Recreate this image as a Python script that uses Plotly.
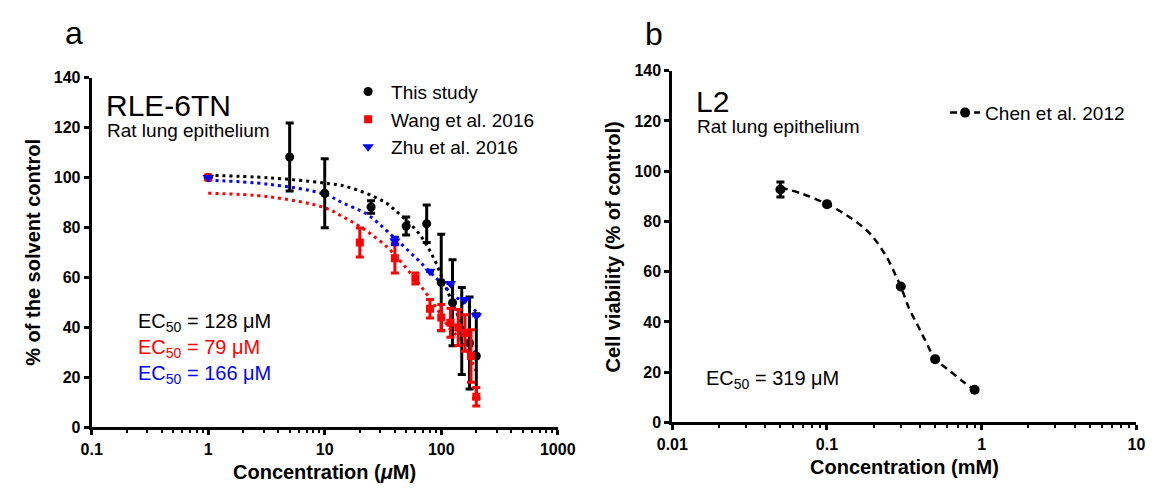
import plotly.graph_objects as go

# ---------------- data: panel a (RLE-6TN) ----------------
this_x = [1, 5, 10, 25, 50, 75, 100, 125, 150, 175, 200]
this_y = [100, 108.2, 93.7, 88.2, 80.6, 81.5, 58.0, 49.9, 38.6, 33.8, 28.6]
this_err = [0, 13.6, 13.8, 2.5, 3.6, 7.5, 19.3, 17.2, 17.4, 18.4, 16.9]

wang_x = [1, 20, 40, 60, 80, 100, 120, 140, 160, 180, 200]
wang_y = [100, 74.0, 67.7, 59.6, 47.5, 44.0, 41.9, 40.0, 37.8, 28.6, 12.3]
wang_err = [0, 5.8, 5.9, 2.2, 3.7, 5.2, 5.8, 7.2, 7.3, 10.5, 3.7]

zhu_x = [1, 40, 80, 120, 160, 200]
zhu_y = [100, 74.6, 62.5, 57.6, 51.2, 44.7]
zhu_err = [0, 1.5, 0, 0, 0, 0]

# fitted curves
fit_this_x = [1, 3.3, 9.8, 15.2, 31.8, 45.3, 64.3, 85.8, 114, 143, 168, 200]
fit_this_y = [100.9, 99.9, 97.8, 96.4, 90.5, 84.7, 77.6, 67.9, 54.1, 43.4, 35.7, 29.2]
fit_wang_x = [1, 3.3, 10, 14.3, 22.4, 35, 46.7, 73.1, 92.6, 118, 152, 185, 200]
fit_wang_y = [93.7, 92.3, 87.9, 84.3, 78.9, 71.8, 65.4, 54.1, 47.3, 39.6, 34.4, 26.0, 22.5]
fit_zhu_x = [1, 3.3, 10, 14.3, 23.1, 36.1, 60.4, 80.5, 89.7, 134, 190, 200]
fit_zhu_y = [98.9, 97.3, 93.3, 89.8, 85.3, 77.6, 67.9, 62.1, 59.9, 52.1, 47.1, 46.4]

# ---------------- data: panel b (L2) ----------------
chen_x = [0.05, 0.1, 0.3, 0.5, 0.9]
chen_y = [92.7, 86.9, 54.1, 25.2, 13.0]
chen_err = [3.0, 0, 0, 0, 0]
fit_chen_x = [0.05, 0.0686, 0.1, 0.1416, 0.19, 0.2416, 0.279, 0.3, 0.339, 0.392, 0.442, 0.5, 0.605, 0.772, 0.9]
fit_chen_y = [93.5, 91.1, 86.9, 81.5, 75.1, 66.1, 58.3, 54.1, 45.5, 37.8, 31.4, 25.2, 21.1, 15.9, 13.0]

a_ticks = [0.1, 1, 10, 100, 1000]
a_ticktext = ["0.1", "1", "10", "100", "1000"]
b_ticks = [0.01, 0.1, 1, 10]
b_ticktext = ["0.01", "0.1", "1", "10"]
y_ticks = [0, 20, 40, 60, 80, 100, 120, 140]

FONT = "Liberation Sans, Arial, Helvetica, sans-serif"
W, H = 1167, 491
BLACK, RED, BLUE = "#000000", "#ff0000", "#0000ff"

fig = go.Figure()

# fitted curves (behind points)
for fx, fy, col in [(fit_this_x, fit_this_y, BLACK), (fit_wang_x, fit_wang_y, RED), (fit_zhu_x, fit_zhu_y, BLUE)]:
    fig.add_trace(go.Scatter(x=fx, y=fy, mode="lines", line=dict(color=col, width=3, dash="3px,4px", shape="spline"),
                             showlegend=False, hoverinfo="skip", xaxis="x", yaxis="y"))

fig.add_trace(go.Scatter(x=this_x, y=this_y, mode="markers", name="This study",
                         marker=dict(symbol="circle", size=9, color=BLACK),
                         error_y=dict(type="data", array=this_err, thickness=3, width=4, color=BLACK),
                         xaxis="x", yaxis="y", legend="legend"))
fig.add_trace(go.Scatter(x=wang_x, y=wang_y, mode="markers", name="Wang et al. 2016",
                         marker=dict(symbol="square", size=8, color=RED),
                         error_y=dict(type="data", array=wang_err, thickness=3, width=4, color=RED),
                         xaxis="x", yaxis="y", legend="legend"))
fig.add_trace(go.Scatter(x=zhu_x, y=zhu_y, mode="markers", name="Zhu et al. 2016",
                         marker=dict(symbol="triangle-down", size=10, color=BLUE),
                         error_y=dict(type="data", array=zhu_err, thickness=3, width=4, color=BLUE),
                         xaxis="x", yaxis="y", legend="legend"))

# panel b
fig.add_trace(go.Scatter(x=fit_chen_x, y=fit_chen_y, mode="lines",
                         line=dict(color=BLACK, width=2.5, dash="7px,5px", shape="spline"),
                         showlegend=False, hoverinfo="skip", xaxis="x2", yaxis="y2"))
fig.add_trace(go.Scatter(x=chen_x, y=chen_y, mode="markers", name="Chen et al. 2012",
                         marker=dict(symbol="circle", size=10, color=BLACK),
                         error_y=dict(type="data", array=chen_err, thickness=3, width=4, color=BLACK),
                         xaxis="x2", yaxis="y2", legend="legend2", showlegend=False))
# legend entry for panel b (line + marker)
fig.add_trace(go.Scatter(x=[None], y=[None], mode="lines+markers", name="Chen et al. 2012",
                         line=dict(color=BLACK, width=2.5, dash="7px,5px"),
                         marker=dict(symbol="circle", size=10, color=BLACK),
                         xaxis="x2", yaxis="y2", legend="legend2"))

def px_x(p):
    return p / W

def px_y(p):
    return 1 - p / H

tickfont = dict(family=FONT, size=16, color=BLACK, weight="bold")

def xaxis_cfg(dom, rng, tv, tt, anchor):
    lo, hi = rng
    minor_vals = [m * 10 ** d for d in range(lo, hi) for m in range(2, 10)]
    return dict(type="log", range=[lo, hi], domain=dom, anchor=anchor,
                showline=True, linewidth=3, linecolor=BLACK, mirror=False,
                ticks="outside", ticklen=5, tickwidth=2.5, tickcolor=BLACK,
                tickmode="array", tickvals=tv, ticktext=tt, tickfont=tickfont,
                showgrid=False, zeroline=False,
                minor=dict(ticks="outside", ticklen=3, tickwidth=2, tickcolor=BLACK,
                           tickmode="array", tickvals=minor_vals, showgrid=False))

def yaxis_cfg(dom, anchor):
    return dict(range=[0, 140], domain=dom, anchor=anchor,
                showline=True, linewidth=3, linecolor=BLACK,
                ticks="outside", ticklen=5, tickwidth=2.5, tickcolor=BLACK,
                tickmode="array", tickvals=y_ticks, tickfont=tickfont,
                showgrid=False, zeroline=False)

fig.update_layout(
    width=W, height=H, margin=dict(l=0, r=0, t=0, b=0),
    paper_bgcolor="white", plot_bgcolor="white",
    font=dict(family=FONT, color=BLACK),
    xaxis=xaxis_cfg([px_x(78), px_x(558)], (-1, 3), a_ticks, a_ticktext, "y"),
    yaxis=yaxis_cfg([px_y(434.5), px_y(72)], "x"),
    xaxis2=xaxis_cfg([px_x(676), px_x(1154)], (-2, 1), b_ticks, b_ticktext, "y2"),
    yaxis2=yaxis_cfg([px_y(429.3), px_y(65)], "x2"),
    legend=dict(x=px_x(339), y=px_y(115.6), xanchor="left", yanchor="middle",
                font=dict(family=FONT, size=19, color=BLACK), bgcolor="rgba(0,0,0,0)",
                itemwidth=36, traceorder="normal"),
    legend2=dict(x=px_x(957), y=px_y(108.5), xanchor="left", yanchor="middle",
                 font=dict(family=FONT, size=19, color=BLACK), bgcolor="rgba(0,0,0,0)",
                 itemwidth=30),
    showlegend=True,
)

def ann(text, x, y, size, color=BLACK, xanchor="left", bold=False, angle=0):
    fig.add_annotation(text=text, x=px_x(x), y=px_y(y), xref="paper", yref="paper",
                       xanchor=xanchor, yanchor="middle", showarrow=False, textangle=angle,
                       font=dict(family=FONT, size=size, color=color, weight="bold" if bold else "normal"))

# panel labels
ann("a", 60, 26, 32, xanchor="center")
ann("b", 657, 27, 32, xanchor="center")
# panel a texts
ann("RLE-6TN", 91, 101, 30)
ann("Rat lung epithelium", 92, 127, 19)
ann("EC<sub>50</sub> = 128 μM", 124, 326, 20, BLACK)
ann("EC<sub>50</sub> = 79 μM", 124, 353, 20, RED)
ann("EC<sub>50</sub> = 166 μM", 124, 380, 20, BLUE)
ann("% of the solvent control", 18, 253, 20, bold=True, xanchor="center", angle=-90)
ann("Concentration (<i>μ</i>M)", 318, 481, 20, bold=True, xanchor="center")
# panel b texts
ann("L2", 698, 97, 30)
ann("Rat lung epithelium", 699, 123, 19)
ann("EC<sub>50</sub> = 319 μM", 709, 385, 20)
ann("Cell viability (% of control)", 615, 248, 20, bold=True, xanchor="center", angle=-90)
ann("Concentration (mM)", 915, 475, 20, bold=True, xanchor="center")

fig.write_html("out.html")
